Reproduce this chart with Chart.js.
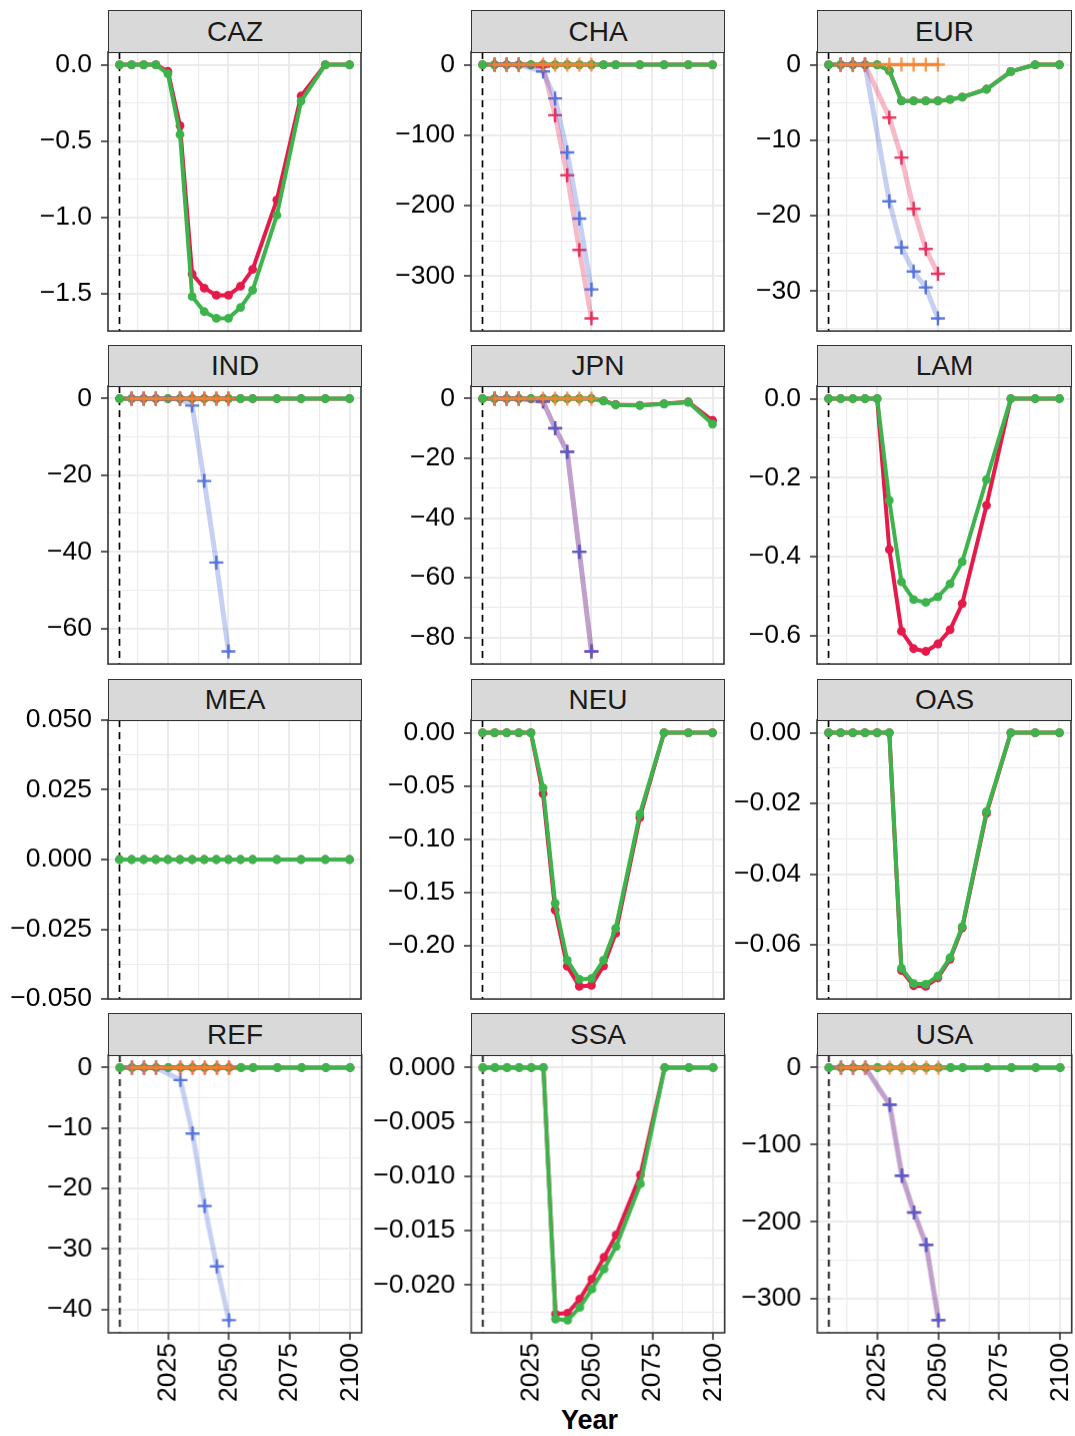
<!DOCTYPE html>
<html><head><meta charset="utf-8">
<script src="https://cdn.jsdelivr.net/npm/chart.js@4.4.0/dist/chart.umd.min.js"></script>
<style>
body{margin:0;background:#fff;width:1075px;height:1436px;position:relative;overflow:hidden;font-family:"Liberation Sans",Arial,sans-serif;}
.strip{position:absolute;box-sizing:border-box;background:#d9d9d9;border:1.5px solid #333;color:#1a1a1a;font-size:28px;display:flex;align-items:center;justify-content:center;}
canvas{position:absolute;}
#xtitle{position:absolute;left:108px;width:963px;text-align:center;top:1407px;font-weight:bold;font-size:27px;line-height:27px;color:#000;}
</style></head><body>
<div id="xtitle">Year</div>
<script>
// ---------- data ----------
const regions = ["CAZ","CHA","EUR","IND","JPN","LAM","MEA","NEU","OAS","REF","SSA","USA"];
const dotYears = [2005,2010,2015,2020,2025,2030,2035,2040,2045,2050,2055,2060,2070,2080,2090,2100];
const crossYears = [2010,2015,2020,2030,2035,2040,2045,2050];
const xTickLabels = ["2025","2050","2075","2100"];
const refYear = 2005;

const CAZ_red   = [0,0,0,0,-0.044,-0.40,-1.37,-1.463,-1.51,-1.51,-1.45,-1.34,-0.885,-0.205,0,0];
const CAZ_green = [0,0,0,0,-0.06,-0.457,-1.518,-1.617,-1.661,-1.66,-1.59,-1.476,-0.986,-0.238,0,0];
const CAZ_yTicks = ["0.0","−0.5","−1.0","−1.5"];

const CHA_red   = [0,0,0,0,0,0,0,0,0,0,0,0,0,0,0,0];
const CHA_green = [0,0,0,0,0,0,0,0,0,0,0,0,0,0,0,0];
const CHA_orangeX = [0,0,0,0,0,0,0,0];
const CHA_redX  = [0,0,0,-3,-71.7,-156.8,-263,-360];
const CHA_blueX = [0,0,0,-9.6,-47.8,-124.4,-218.5,-319];
const CHA_yTicks = ["0","−100","−200","−300"];

const EUR_red   = [0,0,0,0,0,-0.8,-4.8,-4.8,-4.8,-4.8,-4.6,-4.3,-3.25,-0.9,0,0];
const EUR_green = [0,0,0,0,0,-0.8,-4.8,-4.8,-4.8,-4.8,-4.6,-4.3,-3.25,-0.9,0,0];
const EUR_orangeX = [0,0,0,0,0,0,0,0];
const EUR_redX  = [0,0,0,-7.0,-12.3,-19.1,-24.4,-27.7];
const EUR_blueX = [0,0,0,-18.1,-24.2,-27.4,-29.5,-33.6];
const EUR_yTicks = ["0","−10","−20","−30"];

const IND_red   = [0,0,0,0,0,0,0,0,0,0,0,0,0,0,0,0];
const IND_green = [0,0,0,0,0,0,0,0,0,0,0,0,0,0,0,0];
const IND_orangeX = [0,0,0,0,0,0,0,0];
const IND_redX  = [0,0,0,0,0,0,0,0];
const IND_blueX = [0,0,0,0,-1.8,-21.5,-42.8,-66];
const IND_yTicks = ["0","−20","−40","−60"];

const JPN_red   = [0,0,0,0,0,0,0,0,0,0,-0.7,-2.0,-2.2,-1.7,-1.1,-7.3];
const JPN_green = [0,0,0,0,0,0,0,0,0,0,-0.8,-2.1,-2.3,-1.8,-1.2,-8.5];
const JPN_orangeX = [0,0,0,0,0,0,0,0];
const JPN_redX  = [0,0,0,-0.9,-9.9,-17.8,-51.3,-84.7];
const JPN_blueX = [0,0,0,-0.9,-9.9,-17.8,-51.3,-84.7];
const JPN_yTicks = ["0","−20","−40","−60","−80"];

const LAM_red   = [0,0,0,0,0,-0.382,-0.589,-0.633,-0.640,-0.621,-0.585,-0.519,-0.270,0,0,0];
const LAM_green = [0,0,0,0,0,-0.2575,-0.464,-0.509,-0.516,-0.502,-0.469,-0.413,-0.205,0,0,0];
const LAM_yTicks = ["0.0","−0.2","−0.4","−0.6"];

const MEA_red   = [0,0,0,0,0,0,0,0,0,0,0,0,0,0,0,0];
const MEA_green = [0,0,0,0,0,0,0,0,0,0,0,0,0,0,0,0];
const MEA_yTicks = ["0.050","0.025","0.000","−0.025","−0.050"];

const NEU_red   = [0,0,0,0,0,-0.0572,-0.1664,-0.2191,-0.238,-0.237,-0.2188,-0.1883,-0.0795,0,0,0];
const NEU_green = [0,0,0,0,0,-0.0518,-0.160,-0.2135,-0.2314,-0.2307,-0.2135,-0.1836,-0.0763,0,0,0];
const NEU_yTicks = ["0.00","−0.05","−0.10","−0.15","−0.20"];

const OAS_red   = [0,0,0,0,0,0,-0.0672,-0.0715,-0.0717,-0.0693,-0.064,-0.0552,-0.0228,0,0,0];
const OAS_green = [0,0,0,0,0,0,-0.0666,-0.0709,-0.0711,-0.0688,-0.0636,-0.0548,-0.0223,0,0,0];
const OAS_yTicks = ["0.00","−0.02","−0.04","−0.06"];

const REF_red   = [0,0,0,0,0,0,0,0,0,0,0,0,0,0,0,0];
const REF_green = [0,0,0,0,0,0,0,0,0,0,0,0,0,0,0,0];
const REF_orangeX = [0,0,0,0,0,0,0,0];
const REF_redX  = [0,0,0,0,0,0,0,0];
const REF_blueX = [0,0,0,-2.05,-10.9,-22.9,-32.9,-41.8];
const REF_yTicks = ["0","−10","−20","−30","−40"];

const SSA_red   = [0,0,0,0,0,0,-0.02267,-0.02258,-0.02129,-0.01945,-0.01745,-0.01539,-0.00986,0,0,0];
const SSA_green = [0,0,0,0,0,0,-0.02313,-0.02323,-0.02206,-0.02037,-0.01853,-0.01644,-0.01069,0,0,0];
const SSA_yTicks = ["0.000","−0.005","−0.010","−0.015","−0.020"];

const USA_red   = [0,0,0,0,0,0,0,0,0,0,0,0,0,0,0,0];
const USA_green = [0,0,0,0,0,0,0,0,0,0,0,0,0,0,0,0];
const USA_orangeX = [0,0,0,0,0,0,0,0];
const USA_redX  = [0,0,0,-48.2,-140.2,-188,-230,-327.7];
const USA_blueX = [0,0,0,-48.2,-140.2,-188,-230,-327.7];
const USA_yTicks = ["0","−100","−200","−300"];

// table built from the arrays above
const table = {
  CAZ:{red:CAZ_red,green:CAZ_green,ticks:CAZ_yTicks},
  CHA:{red:CHA_red,green:CHA_green,orangeX:CHA_orangeX,redX:CHA_redX,blueX:CHA_blueX,ticks:CHA_yTicks},
  EUR:{red:EUR_red,green:EUR_green,orangeX:EUR_orangeX,redX:EUR_redX,blueX:EUR_blueX,ticks:EUR_yTicks},
  IND:{red:IND_red,green:IND_green,orangeX:IND_orangeX,redX:IND_redX,blueX:IND_blueX,ticks:IND_yTicks},
  JPN:{red:JPN_red,green:JPN_green,orangeX:JPN_orangeX,redX:JPN_redX,blueX:JPN_blueX,ticks:JPN_yTicks},
  LAM:{red:LAM_red,green:LAM_green,ticks:LAM_yTicks},
  MEA:{red:MEA_red,green:MEA_green,ticks:MEA_yTicks},
  NEU:{red:NEU_red,green:NEU_green,ticks:NEU_yTicks},
  OAS:{red:OAS_red,green:OAS_green,ticks:OAS_yTicks},
  REF:{red:REF_red,green:REF_green,orangeX:REF_orangeX,redX:REF_redX,blueX:REF_blueX,ticks:REF_yTicks},
  SSA:{red:SSA_red,green:SSA_green,ticks:SSA_yTicks},
  USA:{red:USA_red,green:USA_green,orangeX:USA_orangeX,redX:USA_redX,blueX:USA_blueX,ticks:USA_yTicks}
};

// ---------- layout & style ----------
const colLeft = [108, 471, 817], colRight = [361, 724, 1071];
const stripTop = [10, 345, 679, 1013], panelTop = [52, 386, 720, 1055], panelBottom = [330, 663, 998, 1332];
const FONT = '"Liberation Sans", Arial, sans-serif';
const RED = '#e6194b', GREEN = '#3cb44b';
const xMin = 2000.25, xMax = 2104.75;
const xMajor = xTickLabels.map(Number);
const xGrid = [2012.5, 2025, 2037.5, 2050, 2062.5, 2075, 2087.5, 2100];

const framePlugin = {
  id: 'frame',
  beforeDatasetsDraw(chart) {
    const {ctx, chartArea: a, scales: {x}} = chart;
    const px = x.getPixelForValue(refYear);
    ctx.save();
    ctx.strokeStyle = '#000'; ctx.lineWidth = 1.7; ctx.setLineDash([7, 5]);
    ctx.beginPath(); ctx.moveTo(px, a.top); ctx.lineTo(px, a.bottom); ctx.stroke();
    ctx.restore();
  },
  afterDraw(chart) {
    const {ctx, chartArea: a} = chart;
    ctx.save();
    ctx.strokeStyle = '#333'; ctx.lineWidth = 1.6;
    ctx.strokeRect(a.left, a.top, a.right - a.left, a.bottom - a.top);
    ctx.restore();
  }
};

function toNum(s) { return Number(s.replace('−', '-')); }

function dotDS(vals, color, order) {
  return { data: dotYears.map((x, i) => ({x, y: vals[i]})), borderColor: color, backgroundColor: color,
    borderWidth: 4, pointRadius: 4.4, pointBorderWidth: 0, pointBackgroundColor: color,
    borderJoinStyle: 'round', borderCapStyle: 'round', tension: 0, order };
}
function crossDS(vals, lineColor, ptColor, width, order) {
  return { data: crossYears.map((x, i) => ({x, y: vals[i]})), borderColor: lineColor,
    borderWidth: width, pointStyle: 'cross', pointRadius: 7, pointBorderWidth: 2.4,
    pointBorderColor: ptColor, pointBackgroundColor: ptColor,
    borderJoinStyle: 'round', borderCapStyle: 'round', tension: 0, order };
}

regions.forEach((reg, idx) => {
  const d = table[reg];
  const r = Math.floor(idx / 3), c = idx % 3;
  const PL = colLeft[c], PR = colRight[c], PT = panelTop[r], PB = panelBottom[r];
  const YW = 110, PADT = 22, PADR = 22;
  const bottomRow = r === 3;
  const XH = bottomRow ? 78 : 0;
  const PADB = bottomRow ? 6 : 22;

  const datasets = [dotDS(d.red, RED, 6), dotDS(d.green, GREEN, 5)];
  if (d.orangeX) {
    datasets.push(crossDS(d.redX, 'rgba(230,25,75,0.3)', 'rgba(230,25,75,0.85)', 5, 4));
    datasets.push(crossDS(d.blueX, 'rgba(67,99,216,0.3)', 'rgba(67,99,216,0.85)', 5, 3));
    datasets.push(crossDS(d.orangeX, 'rgba(245,130,49,0.85)', 'rgba(245,130,49,0.8)', 3.5, 2));
  }
  let all = [];
  datasets.forEach(ds => ds.data.forEach(p => all.push(p.y)));
  let dmin = Math.min(...all), dmax = Math.max(...all);
  let ymin, ymax;
  if (dmax - dmin < 1e-12) { ymin = dmin - 0.05; ymax = dmax + 0.05; }
  else { const e = 0.05 * (dmax - dmin); ymin = dmin - e; ymax = dmax + e; }

  const majors = d.ticks.map(toNum);
  const step = Math.abs(majors[1] - majors[0]);
  const eps = step * 1e-6;
  const grid = [];
  const lo = Math.min(...majors) - step, hi = Math.max(...majors) + step;
  for (let v = hi; v >= lo - eps; v -= step / 2) {
    const vv = Math.round(v / (step / 2)) * (step / 2);
    if (vv >= ymin - eps && vv <= ymax + eps) grid.push(vv);
  }
  const isMajorY = v => majors.some(m => Math.abs(m - v) < eps);
  const labelY = v => { const i = majors.findIndex(m => Math.abs(m - v) < eps); return i >= 0 ? d.ticks[i] : ''; };
  const isMajorX = v => xMajor.some(m => Math.abs(m - v) < 1e-6);

  function config() {
    return {
      type: 'line',
      data: { datasets },
      options: {
        responsive: false, animation: false, devicePixelRatio: 1,
        layout: { padding: { left: 0, top: PADT, right: PADR, bottom: PADB } },
        plugins: { legend: { display: false }, tooltip: { enabled: false } },
        elements: { line: { fill: false } },
        scales: {
          x: {
            type: 'linear', min: xMin, max: xMax,
            afterBuildTicks: s => { s.ticks = xGrid.map(v => ({value: v})); },
            afterFit: s => { s.height = XH; },
            border: { display: false },
            grid: {
              color: '#ebebeb',
              lineWidth: ctx => (ctx.tick && isMajorX(ctx.tick.value)) ? 2 : 1.1,
              drawTicks: bottomRow, tickLength: 7, tickWidth: 1.6,
              tickColor: ctx => (ctx.tick && isMajorX(ctx.tick.value)) ? '#333' : 'rgba(0,0,0,0)'
            },
            ticks: {
              display: bottomRow, autoSkip: false, maxRotation: 90, minRotation: 90, padding: 3,
              color: '#000', font: { size: 26.5, family: FONT },
              callback: v => isMajorX(v) ? String(Math.round(v)) : ''
            }
          },
          y: {
            type: 'linear', min: ymin, max: ymax,
            afterBuildTicks: s => { s.ticks = grid.map(v => ({value: v})); },
            afterFit: s => { s.width = YW; },
            border: { display: false },
            grid: {
              color: '#ebebeb',
              lineWidth: ctx => (ctx.tick && isMajorY(ctx.tick.value)) ? 2 : 1.1,
              drawTicks: true, tickLength: 7, tickWidth: 1.6,
              tickColor: ctx => (ctx.tick && isMajorY(ctx.tick.value)) ? '#333' : 'rgba(0,0,0,0)'
            },
            ticks: {
              autoSkip: false, padding: 9, color: '#000', font: { size: 26.5, family: FONT },
              callback: v => labelY(v)
            }
          }
        }
      },
      plugins: [framePlugin]
    };
  }

  // canvas placement; corrected so that the chart area lands exactly on the panel box
  let cLeft = PL - YW, cTop = PT - PADT;
  let W = YW + (PR - PL) + PADR, H = PADT + (PB - PT) + XH + PADB;
  let cv, chart;
  for (let iter = 0; iter < 3; iter++) {
    if (chart) { chart.destroy(); cv.remove(); }
    cv = document.createElement('canvas');
    cv.width = W; cv.height = H;
    cv.style.left = cLeft + 'px'; cv.style.top = cTop + 'px';
    cv.style.width = W + 'px'; cv.style.height = H + 'px';
    document.body.appendChild(cv);
    chart = new Chart(cv, config());
    const a = chart.chartArea;
    const dl = PL - (cLeft + a.left), dt = PT - (cTop + a.top);
    const dw = (PR - PL) - (a.right - a.left), dh = (PB - PT) - (a.bottom - a.top);
    if (Math.abs(dl) < 0.5 && Math.abs(dt) < 0.5 && Math.abs(dw) < 0.5 && Math.abs(dh) < 0.5) break;
    cLeft += dl; cTop += dt; W += dw; H += dh;
  }

  const st = document.createElement('div');
  st.className = 'strip';
  st.style.left = PL + 'px'; st.style.top = stripTop[r] + 'px';
  st.style.width = (PR - PL + 1) + 'px'; st.style.height = (PT - stripTop[r] + 1) + 'px';
  st.textContent = reg;
  document.body.appendChild(st);
});
</script>
</body></html>
